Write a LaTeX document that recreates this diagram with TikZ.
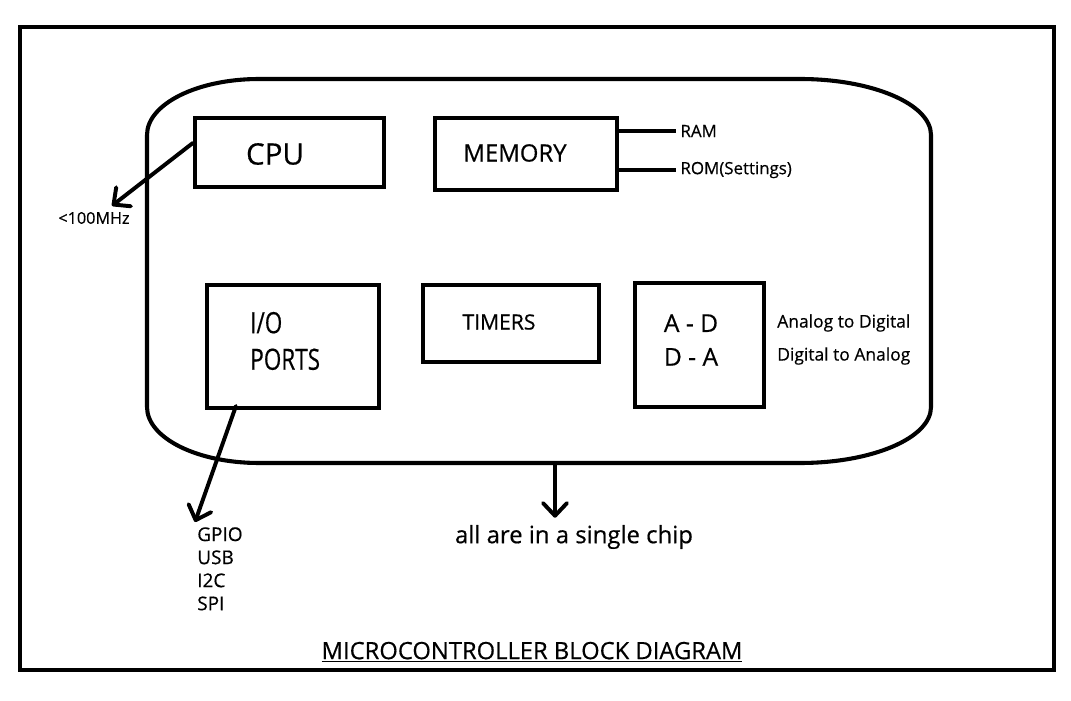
\documentclass[tikz,border=0pt]{standalone}
\usepackage{fontspec}
\setmainfont{Open Sans}[FakeBold=0.5]
\usetikzlibrary{positioning, calc, arrows.meta}
\tikzset{
	blocknode/.style={
			shape=rectangle,
			draw=black,
			line width=2.9pt,
			fill=white,
			inner sep=0pt
		},
	arrowline/.style={
			line width=2.8pt,
			line cap=round,
			-{Straight Barb[length=9pt,width=17pt,round]}
		},
	plainline/.style={
			line width=2.8pt
		}
}
\tikzset{
	bigtext/.style={font=\fontsize{21}{24}\selectfont, inner sep=0pt},
	midtext/.style={font=\fontsize{16}{26}\selectfont, inner sep=0pt},
	smalltext/.style={font=\fontsize{12}{14}\selectfont, inner sep=0pt}
}
\begin{document}
\begin{tikzpicture}[x=0.025cm, y=-0.025cm]

              \useasboundingbox (0,0) rectangle (1071,701);
              \draw[line width=3.3pt] (20,27) rectangle (1054,670);

              \draw[line width=2.9pt] (147,135) arc[start angle=180, end angle=270, x radius=112, y radius=56]
                -- (800,79) arc[start angle=270, end angle=360, x radius=131, y radius=56]
                -- (931,407) arc[start angle=0, end angle=90, x radius=131, y radius=56]
                -- (259,463) arc[start angle=90, end angle=180, x radius=112, y radius=56]
                -- cycle;

              \node[blocknode, minimum width=4.725cm, minimum height=1.725cm] (cpu) at (289.5,152.5) {};
              \node[blocknode, minimum width=4.55cm, minimum height=1.8cm] (memory) at (526,154) {};
              \node[blocknode, minimum width=4.3cm, minimum height=3.075cm] (io) at (293,346.5) {};
              \node[blocknode, minimum width=4.4cm, minimum height=1.925cm] (timers) at (511,323.5) {};
              \node[blocknode, minimum width=3.225cm, minimum height=3.1cm] (adc) at (699.5,345) {};

              \node[bigtext] (cputext) at (275,154) {CPU};
              \node[font=\fontsize{17}{20}\selectfont, inner sep=0pt] (memtext) at (515,153) {MEMORY};
              \node[font=\fontsize{15}{20}\selectfont, inner sep=0pt] (timtext) at (499,322) {TIMERS};
              \node[midtext, anchor=west, align=left] (iotext) at (250,341) {\scalebox{1}[1.3]{I/O}\\\scalebox{1}[1.3]{PORTS}};
              \node[font=\fontsize{17.5}{24}\selectfont, inner sep=0pt, align=center] (adctext) at (691,340) {A - D\\D - A};

              \node[smalltext, anchor=west, inner sep=3pt] (ram) at (676,131) {RAM};
              \node[smalltext, anchor=west, inner sep=3pt] (rom) at (676,170) {ROM(Settings)};
              \node[font=\fontsize{12.4}{23.5}\selectfont, inner sep=0pt, anchor=west, align=left] (adcnote) at (777,339.5) {Analog to Digital\\Digital to Analog};

              \node[font=\fontsize{11.5}{14}\selectfont, inner sep=0pt] (mhz) at (94,218) {<100MHz};
              \node[font=\fontsize{13.5}{16.4}\selectfont, inner sep=0pt, anchor=north west, align=left] (plist) at (197,527) {GPIO\\USB\\I2C\\SPI};
              \node[font=\fontsize{17}{20}\selectfont, inner sep=5pt] (chiptext) at (574,537) {all are in a single chip};
              \node[font=\fontsize{16.9}{20}\selectfont, inner sep=0pt] (title) at (532,652) {\underline{MICROCONTROLLER BLOCK DIAGRAM}};

              \coordinate (chipbottom) at (555,465);

              \draw[plainline] (memory.east |- ram.west) -- (ram.west);
              \draw[plainline] (memory.east |- rom.west) -- (rom.west);

              \draw[arrowline] ([yshift=6.8pt]cpu.west) -- ($(mhz.north)+(18,-6)$);
              \draw[arrowline] ($(io.south west)+(31,-4)$) -- ($(plist.north west)+(-2,-5)$);
              \draw[arrowline] (chipbottom) -- (chipbottom |- chiptext.north);

            \end{tikzpicture}
\end{document}
